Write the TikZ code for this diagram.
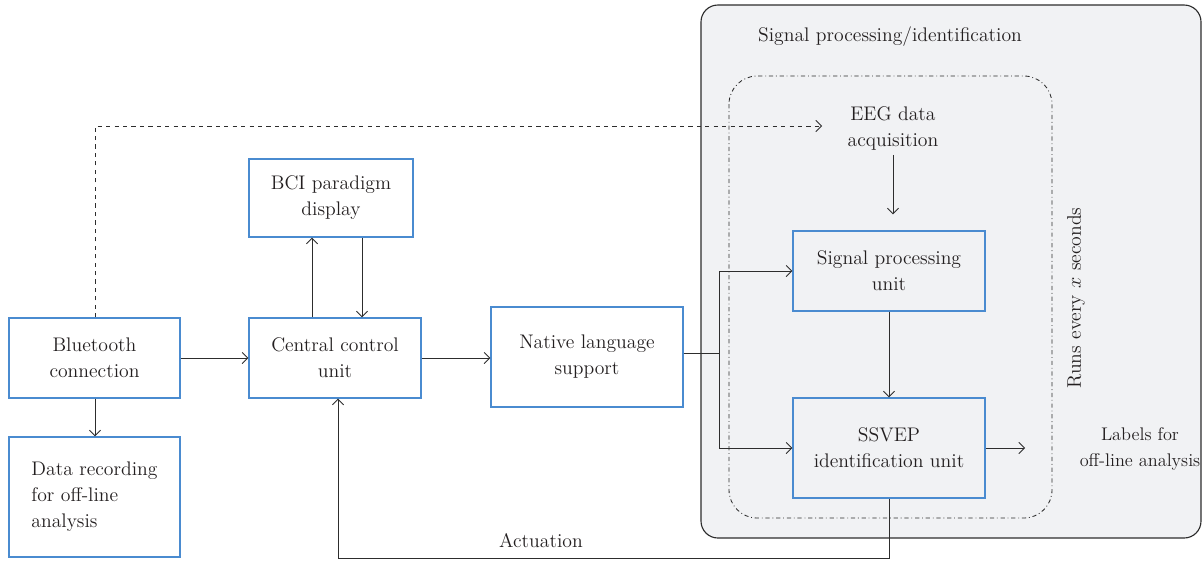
\documentclass[tikz,border=0pt]{standalone}
\usepackage{xcolor}
\usetikzlibrary{arrows.meta}
\definecolor{boxblue}{RGB}{74, 139, 208}
\definecolor{panelgray}{RGB}{241, 242, 244}
\definecolor{linegray}{RGB}{45, 45, 45}
\definecolor{inkdark}{RGB}{35, 31, 32}
\tikzset{blk/.style={draw=boxblue,line width=0.9pt,align=center,inner sep=2pt,text=inkdark},
         lnk/.style={draw=linegray,semithick,-{Straight Barb[length=4pt,width=8pt]}},
         lbl/.style={align=center,text=inkdark}}

\begin{document}
\begin{tikzpicture}[x=0.025cm,y=-0.025cm,font=\fontsize{14}{18.5}\selectfont]
\useasboundingbox (0,0) rectangle (1202,561);
% panels
\draw[linegray,thick,fill=panelgray,rounded corners=12] (701,5) rectangle (1201,538);
\draw[linegray,semithick,dash dot,rounded corners=20] (729,76) rectangle (1052,518);
\node[lbl] (title) at (890,37) {Signal processing/identification};
% blocks
\node[blk,minimum width=4.275cm,minimum height=2cm] (bt) at (94.5,358) {Bluetooth\\connection};
\node[blk,minimum width=4.275cm,minimum height=3cm,align=left] (rec) at (94.5,497) {Data recording\\for off-line\\analysis};
\node[blk,minimum width=4.1cm,minimum height=1.95cm] (bci) at (331,198) {BCI paradigm\\display};
\node[blk,minimum width=4.3cm,minimum height=2cm] (ccu) at (335,358) {Central control\\unit};
\node[blk,minimum width=4.8cm,minimum height=2.5cm] (nls) at (587,357) {Native language\\support};
\node[blk,minimum width=4.8cm,minimum height=2cm] (spu) at (889,271) {Signal processing\\unit};
\node[blk,minimum width=4.8cm,minimum height=2.5cm] (ssvep) at (889,448) {SSVEP\\identification unit};
\node[lbl] (eeg) at (893,128) {EEG data\\acquisition};
\node[lbl,font=\fontsize{13}{18}\selectfont] (off) at (1140,449) {Labels for\\off-line analysis};
\node[lbl,rotate=90] (runs) at (1076,298) {Runs every $x$ seconds};
\node[lbl] (act) at (541,541) {Actuation};
% helper points
\coordinate (br) at (719,353);
\coordinate (dl) at (95,126);
\coordinate (dr) at (822,126);
\coordinate (a1) at (889,558);
\coordinate (a2) at (338,558);
% links
\draw[lnk,dashed] (bt.north -| dl) -- (dl) -- (dr);
\draw[lnk] (bt) -- (bt.east -| ccu.west);
\draw[lnk] (bt.south -| dl) -- (rec.north -| dl);
\draw[lnk] (ccu.north -| 312,0) -- (bci.south -| 312,0);
\draw[lnk] (bci.south -| 362,0) -- (ccu.north -| 362,0);
\draw[lnk] (ccu) -- (ccu.east -| nls.west);
\draw[linegray,semithick] (nls.east |- br) -- (br);
\draw[lnk] (br) |- (spu.west);
\draw[lnk] (br) |- (ssvep.west);
\draw[lnk,shorten >=0.4cm] (eeg.south -| 893,0) -- (spu.north -| 893,0);
\draw[lnk] (spu) -- (ssvep);
\draw[lnk,shorten >=0.4cm] (ssvep.east) -- (ssvep.east -| 1041,0);
\draw[lnk] (ssvep.south) -- (a1) -- (a2) -- (ccu.south -| a2);
\end{tikzpicture}
\end{document}
